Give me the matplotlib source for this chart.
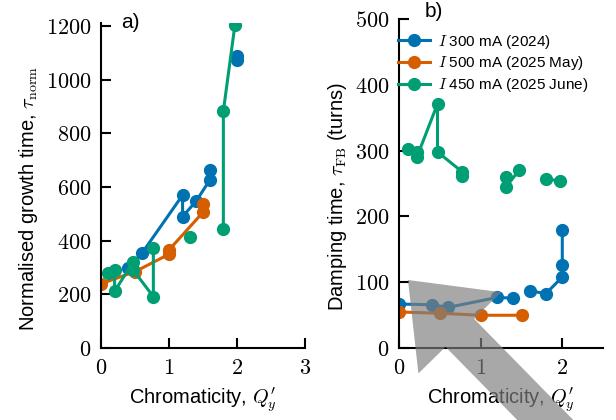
import numpy as np
import matplotlib
matplotlib.use("Agg")
import matplotlib.pyplot as plt
from matplotlib.patches import FancyArrow
from matplotlib.ticker import FuncFormatter

plt.rcParams['font.family'] = ['Liberation Sans', 'DejaVu Sans']
plt.rcParams['mathtext.fontset'] = 'cm'

nan = np.nan

# series labels / colours
labels = [r'$I$ 300 mA (2024)', r'$I$ 500 mA (2025 May)', r'$I$ 450 mA (2025 June)']
colors = ['#0072B2', '#D55E00', '#009E73']

# panel a) normalised growth time
a_blue_x = [0.4, 0.6, 1.2, 1.2, 1.4, 1.6, 1.6, nan, 2.0, 2.0]
a_blue_y = [300, 353, 570, 490, 548, 626, 663, nan, 1073, 1090]
a_orange_x = [0.0, 0.5, 1.0, 1.0, 1.5, 1.5]
a_orange_y = [240, 285, 350, 366, 506, 537]
a_green_x = [0.1, 0.2, 0.2, 0.47, 0.47, 0.77, 0.77, nan, 1.31, nan, 1.8, 1.8, 1.97]
a_green_y = [279, 291, 212, 320, 292, 192, 373, nan, 414, nan, 443, 883, 1204]

# panel b) damping time
b_blue_x = [0.0, 0.4, 0.6, 1.2, 1.4, nan, 1.6, 1.8, 2.0, 2.0, 2.0]
b_blue_y = [67, 66, 62, 77, 76, nan, 87, 83, 108, 127, 180]
b_orange_x = [0.0, 0.5, 1.0, 1.5]
b_orange_y = [55, 53, 50, 50]
b_green_x = [0.11, 0.22, 0.22, 0.47, 0.47, 0.77, 0.77, nan, 1.31, 1.31, 1.47, nan, 1.8, 1.97]
b_green_y = [302, 298, 291, 371, 298, 268, 262, nan, 260, 245, 270, nan, 257, 254]

fig = plt.figure(figsize=(6.16, 4.2), dpi=100)
ax_a = fig.add_axes([0.164, 0.171, 0.331, 0.7735])
ax_b = fig.add_axes([0.648, 0.171, 0.331, 0.784])

style = dict(marker='o', markersize=8.5, linewidth=2.2)

for x, y, c, lab in zip([a_blue_x, a_orange_x, a_green_x],
                        [a_blue_y, a_orange_y, a_green_y], colors, labels):
    ax_a.plot(x, y, color=c, label=lab, **style)
for x, y, c, lab in zip([b_blue_x, b_orange_x, b_green_x],
                        [b_blue_y, b_orange_y, b_green_y], colors, labels):
    ax_b.plot(x, y, color=c, label=lab, **style)

math_fmt = FuncFormatter(lambda v, p: f'${v:g}$')
xlab = r"Chromaticity, $Q^{\prime}_{y}$"

ax_a.set_xlim(0, 3)
ax_a.set_ylim(0, 1210)
ax_a.set_xticks([0, 1, 2, 3])
ax_a.set_yticks(range(0, 1201, 200))
ax_a.set_xlabel(xlab, fontsize=14.5, labelpad=5)
ax_a.set_ylabel(r"Normalised growth time, $\tau_{\rm norm}$", fontsize=14.5)
ax_a.text(0.10, 1.004, 'a)', transform=ax_a.transAxes, fontsize=15, va='center')

ax_b.set_xlim(0, 2.5)
ax_b.set_ylim(0, 500)
ax_b.set_xticks([0, 1, 2])
ax_b.set_yticks(range(0, 501, 100))
ax_b.set_xlabel(xlab, fontsize=14.5, labelpad=5)
ax_b.set_ylabel(r"Damping time, $\tau_{\rm FB}$ (turns)", fontsize=14.5)
ax_b.text(0.127, 1.022, 'b)', transform=ax_b.transAxes, fontsize=15, va='center')
ax_b.legend(loc='upper left', bbox_to_anchor=(-0.074, 1.0), frameon=False,
            fontsize=11, handlelength=2.1, handletextpad=0.5, labelspacing=0.25)

for ax in (ax_a, ax_b):
    ax.spines['top'].set_visible(False)
    ax.spines['right'].set_visible(False)
    for s in ('left', 'bottom'):
        ax.spines[s].set_linewidth(1.5)
    ax.tick_params(direction='in', length=7, width=1.5, labelsize=16, pad=7)
    ax.xaxis.set_major_formatter(math_fmt)
    ax.yaxis.set_major_formatter(math_fmt)
    ax.yaxis.label.set_y(0.46)

# grey pointer arrow overlaid on the figure (inches, so it keeps its shape)
arrow = FancyArrow(5.90, -0.456, -1.82, 1.856, width=0.40, head_width=1.16,
                   head_length=0.74, length_includes_head=True,
                   transform=fig.dpi_scale_trans, facecolor='#7f7f7f',
                   edgecolor='none', alpha=0.68, zorder=10)
fig.patches.append(arrow)

fig.savefig('out.png', dpi=100)
